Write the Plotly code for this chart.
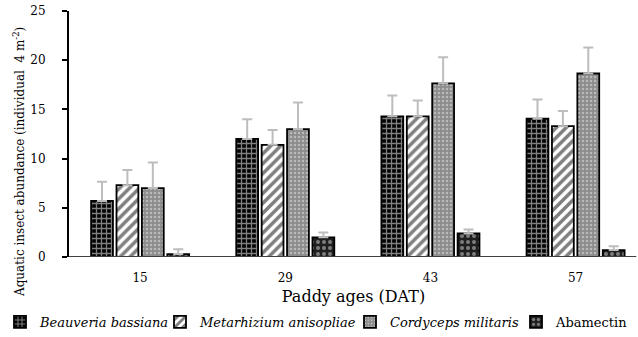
import plotly.graph_objects as go

categories = ["15", "29", "43", "57"]
series_names = ["<i>Beauveria bassiana</i>", "<i>Metarhizium anisopliae</i>",
                "<i>Cordyceps militaris</i>", "Abamectin"]
beauveria = [5.7, 12.0, 14.3, 14.05]
beauveria_err = [1.95, 2.0, 2.1, 1.95]
metarhizium = [7.3, 11.4, 14.3, 13.3]
metarhizium_err = [1.55, 1.5, 1.6, 1.55]
cordyceps = [7.0, 13.0, 17.65, 18.65]
cordyceps_err = [2.6, 2.7, 2.65, 2.65]
abamectin = [0.3, 2.0, 2.4, 0.7]
abamectin_err = [0.5, 0.5, 0.4, 0.4]

values = [beauveria, metarhizium, cordyceps, abamectin]
errors = [beauveria_err, metarhizium_err, cordyceps_err, abamectin_err]
patterns = [
    dict(shape="+", bgcolor="black", fgcolor="white", size=5, solidity=0.45),
    dict(shape="/", bgcolor="white", fgcolor="black", size=7, solidity=0.5),
    dict(shape=".", bgcolor="#8c8c8c", fgcolor="#e6e6e6", size=4, solidity=0.3),
    dict(shape=".", bgcolor="#1f1f1f", fgcolor="#d9d9d9", size=6, solidity=0.35),
]
legend_ids = ["legend", "legend2", "legend3", "legend4"]
legend_px = [0, 160, 350, 516]

xs = list(range(len(categories)))
fig = go.Figure()
for name, v, e, p, lg in zip(series_names, values, errors, patterns, legend_ids):
    fig.add_trace(go.Bar(
        x=xs, y=v, name=name, legend=lg,
        marker=dict(color=p["bgcolor"], pattern=p, line=dict(color="black", width=1.8)),
        error_y=dict(type="data", array=e, arrayminus=[0]*len(e), symmetric=False,
                     color="#bdbdbd", thickness=2, width=5),
    ))

font = "DejaVu Serif, Liberation Serif, serif"
W, H = 638, 337
legends = {}
for lg, px in zip(legend_ids, legend_px):
    legends[lg] = dict(xref="container", yref="container", x=px / W, xanchor="left",
                       y=1 - 322 / H, yanchor="middle", orientation="h",
                       font=dict(family=font, size=13), bgcolor="rgba(0,0,0,0)",
                       itemclick=False, itemdoubleclick=False)

fig.update_layout(
    width=W, height=H,
    margin=dict(l=69, r=0, t=11, b=80),
    paper_bgcolor="white", plot_bgcolor="white",
    barmode="group", bargap=0.30, bargroupgap=0.14,
    font=dict(family=font, size=12, color="black"),
    showlegend=True,
    xaxis=dict(
        tickmode="array", tickvals=xs, ticktext=categories,
        range=[-0.49, 3.43], showgrid=False, zeroline=False,
        showline=False, ticks="", ticklabelstandoff=12,
        tickfont=dict(size=12),
        title=dict(text="Paddy ages (DAT)", font=dict(size=16), standoff=6),
    ),
    yaxis=dict(
        range=[0, 25], tickvals=[0, 5, 10, 15, 20, 25], showgrid=False, zeroline=False,
        showline=True, linecolor="black", linewidth=2, ticks="outside", ticklen=5,
        tickcolor="black", tickwidth=1.5, tickfont=dict(size=12), ticklabelstandoff=14,
    ),
    **legends,
)
fig.add_annotation(text="Aquatic insect abundance (individual  4 m<sup>-2</sup>)",
                   textangle=-90, xref="paper", yref="paper",
                   x=(19 - 69) / 569, y=(257 - 162) / 246, xanchor="center", yanchor="middle",
                   showarrow=False, font=dict(family=font, size=12, color="black"))
fig.add_shape(type="line", xref="paper", yref="y", x0=0, x1=0.997, y0=0, y1=0,
              line=dict(color="#404040", width=2))
fig.write_html("out.html")
